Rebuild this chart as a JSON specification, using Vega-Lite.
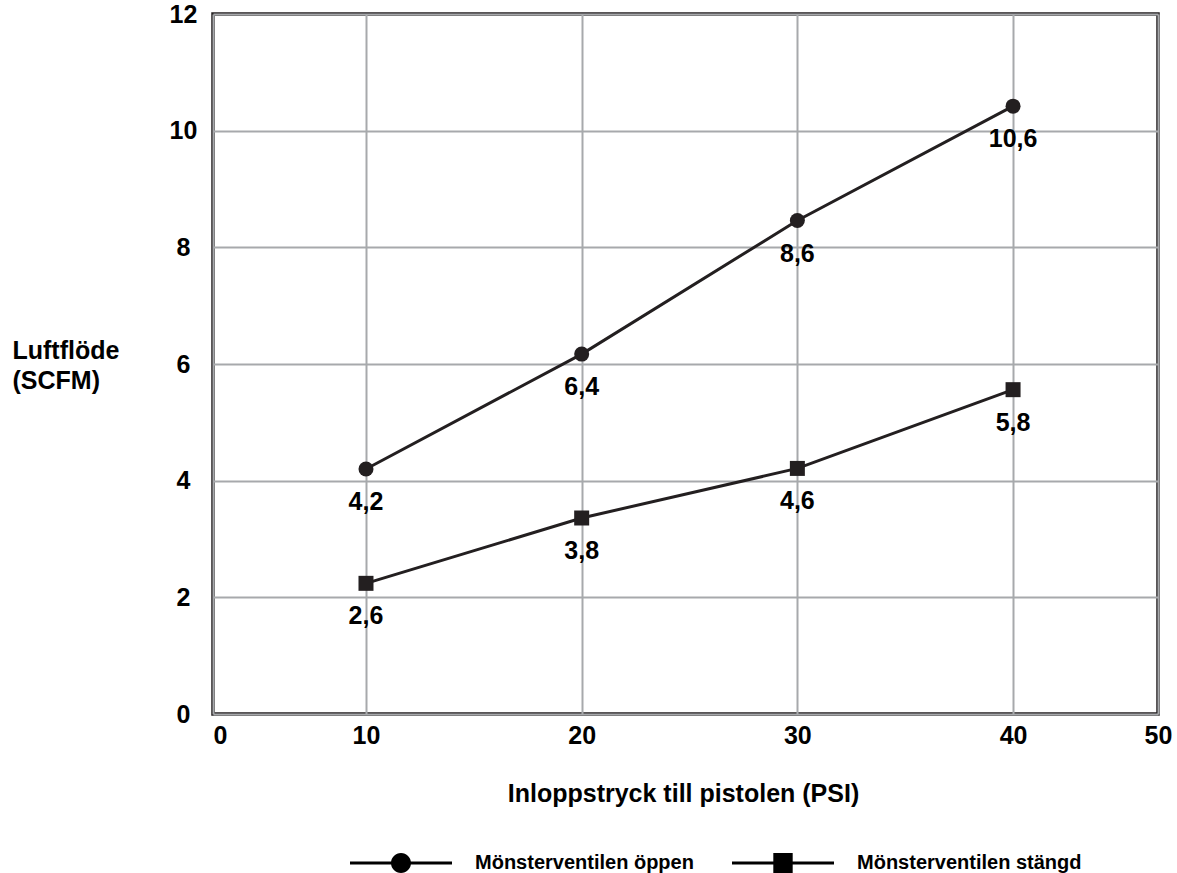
{
  "$schema": "https://vega.github.io/schema/vega-lite/v6.json",
  "width": 945,
  "height": 700,
  "autosize": {"type": "none"},
  "padding": {"left": 213, "top": 14, "right": 19, "bottom": 159},
  "background": "white",
  "config": {
    "font": "Liberation Sans",
    "view": {"stroke": "#231f20", "strokeWidth": 3.5},
    "axis": {
      "domain": false,
      "ticks": false,
      "tickSize": 0,
      "gridColor": "#a7a9ac",
      "gridWidth": 2,
      "gridOpacity": 1,
      "labelFont": "Liberation Sans",
      "labelFontSize": 25,
      "labelFontWeight": "bold",
      "labelColor": "#000000",
      "titleFont": "Liberation Sans",
      "titleFontSize": 25,
      "titleFontWeight": "bold",
      "titleColor": "#000000"
    }
  },
  "data": {
    "values": [
      {"series": "Mönsterventilen öppen", "psi": 10, "scfm": 4.20, "label": "4,2"},
      {"series": "Mönsterventilen öppen", "psi": 20, "scfm": 6.17, "label": "6,4"},
      {"series": "Mönsterventilen öppen", "psi": 30, "scfm": 8.46, "label": "8,6"},
      {"series": "Mönsterventilen öppen", "psi": 40, "scfm": 10.42, "label": "10,6"},
      {"series": "Mönsterventilen stängd", "psi": 10, "scfm": 2.24, "label": "2,6"},
      {"series": "Mönsterventilen stängd", "psi": 20, "scfm": 3.36, "label": "3,8"},
      {"series": "Mönsterventilen stängd", "psi": 30, "scfm": 4.21, "label": "4,6"},
      {"series": "Mönsterventilen stängd", "psi": 40, "scfm": 5.56, "label": "5,8"}
    ]
  },
  "resolve": {"scale": {"shape": "independent"}, "legend": {"shape": "independent"}},
  "layer": [
    {
      "mark": {"type": "line", "color": "#231f20", "strokeWidth": 3},
      "encoding": {
        "x": {
          "field": "psi",
          "type": "quantitative",
          "scale": {"domain": [2.907, 46.72], "nice": false, "zero": false},
          "axis": {
            "title": "Inloppstryck till pistolen (PSI)",
            "values": [2.907, 10, 20, 30, 40, 46.72],
            "labelExpr": "datum.value < 5 ? '0' : datum.value > 45 ? '50' : datum.label",
            "labelFlush": false,
            "labelOverlap": false,
            "labelPadding": 9,
            "labelBaseline": "top",
            "labelAlign": {"condition": {"test": "datum.value < 5", "value": "left"}, "value": "center"},
            "titleBaseline": "top",
            "titleAlign": "center",
            "titleX": 470,
            "titleY": 67
          }
        },
        "y": {
          "field": "scfm",
          "type": "quantitative",
          "scale": {"domain": [0, 12], "nice": false},
          "axis": {
            "title": ["Luftflöde", "(SCFM)"],
            "values": [0, 2, 4, 6, 8, 10, 12],
            "format": "d",
            "labelAlign": "center",
            "labelBaseline": "middle",
            "labelPadding": 30,
            "labelOverlap": false,
            "titleAngle": 0,
            "titleAlign": "left",
            "titleBaseline": "top",
            "titleX": -201,
            "titleY": 324,
            "titleLineHeight": 30
          }
        },
        "detail": {"field": "series", "type": "nominal"}
      }
    },
    {
      "mark": {"type": "point", "filled": true, "color": "#231f20", "opacity": 1, "size": 225},
      "encoding": {
        "x": {"field": "psi", "type": "quantitative"},
        "y": {"field": "scfm", "type": "quantitative"},
        "shape": {
          "field": "series",
          "type": "nominal",
          "scale": {"domain": ["Mönsterventilen öppen", "Mönsterventilen stängd"], "range": ["circle", "square"]},
          "legend": null
        }
      }
    },
    {
      "mark": {"type": "point", "filled": true, "color": "#000000", "opacity": 1, "size": 0},
      "encoding": {
        "x": {"field": "psi", "type": "quantitative"},
        "y": {"field": "scfm", "type": "quantitative"},
        "shape": {
          "field": "series",
          "type": "nominal",
          "scale": {
            "domain": ["Mönsterventilen öppen", "Mönsterventilen stängd"],
            "range": [
              "M-1,-0.028H1V0.028H-1ZM0.196,0A0.196,0.196,0,1,1,-0.196,0A0.196,0.196,0,1,1,0.196,0Z",
              "M-1,-0.028H1V0.028H-1ZM-0.19,-0.196H0.19V0.196H-0.19Z"
            ]
          },
          "legend": {
            "orient": "none",
            "direction": "horizontal",
            "legendX": 137,
            "legendY": 798,
            "title": null,
            "symbolSize": 10404,
            "symbolStrokeWidth": 0,
            "symbolFillColor": "#000000",
            "symbolOpacity": 1,
            "labelOffset": 23,
            "labelLimit": 500,
            "columnPadding": 38,
            "labelFont": "Liberation Sans",
            "labelFontSize": 20,
            "labelFontWeight": "bold",
            "labelColor": "#000000"
          }
        }
      }
    },
    {
      "mark": {"type": "text", "dy": 33, "baseline": "middle", "align": "center", "fontSize": 25, "fontWeight": "bold", "font": "Liberation Sans", "color": "#000000"},
      "encoding": {
        "x": {"field": "psi", "type": "quantitative"},
        "y": {"field": "scfm", "type": "quantitative"},
        "text": {"field": "label", "type": "nominal"}
      }
    }
  ]
}
